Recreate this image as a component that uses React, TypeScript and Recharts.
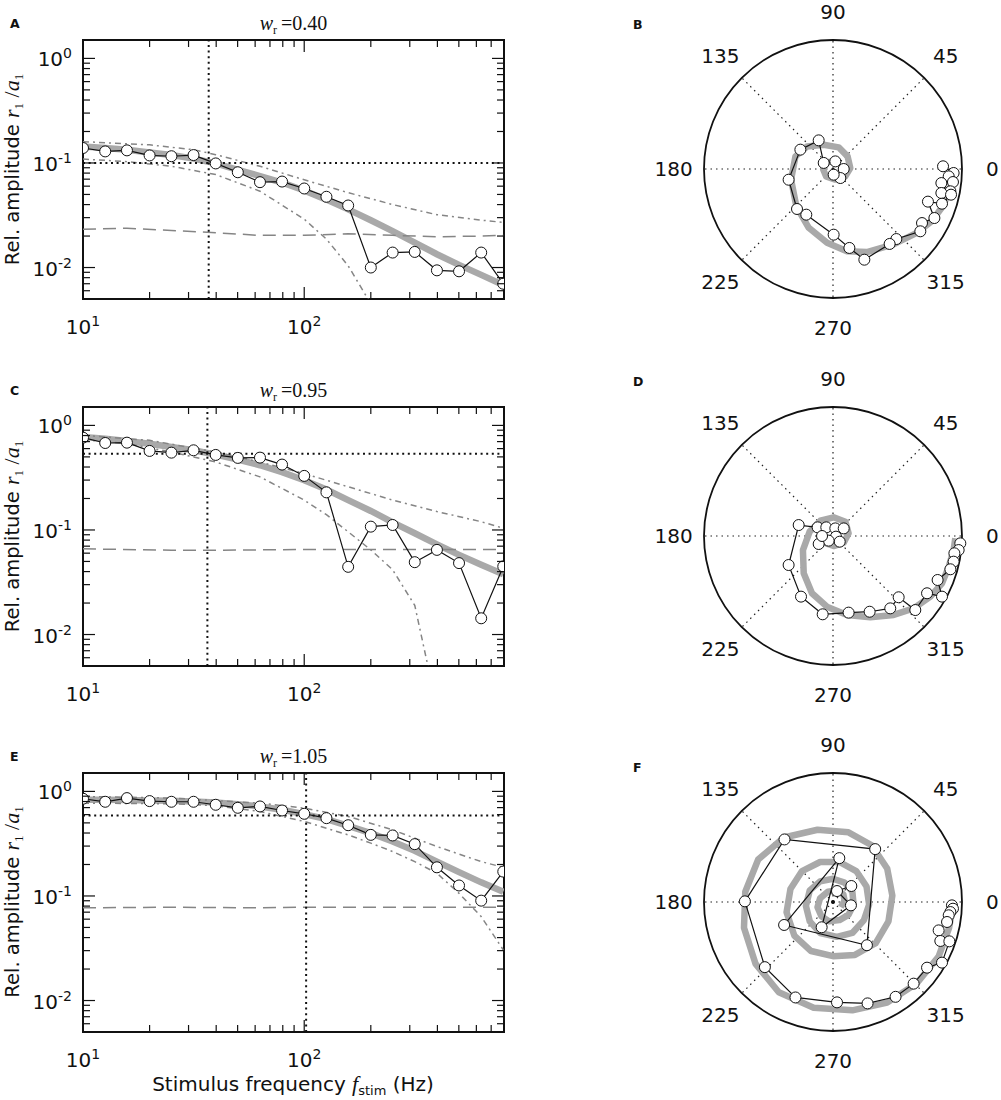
import React from "react";
import {
  ComposedChart,
  Line,
  XAxis,
  YAxis,
  ReferenceLine,
  ReferenceArea,
  ReferenceDot,
} from "recharts";

const SANS = '"DejaVu Sans", sans-serif';
const MATH = '"Liberation Serif", serif';
const INK = "#111";
const FIT_GRAY = "#a9a9a9";
const LINE_GRAY = "#858585";

// stimulus frequencies (Hz), shared by A, C, E
const freqs = [10, 12.6, 15.8, 20, 25.1, 31.6, 39.8, 50.1, 63.1, 79.4, 100, 126, 158, 200, 251, 316, 398, 501, 631, 794];

const xTicks = [10, 20, 30, 40, 50, 60, 70, 80, 90, 100, 200, 300, 400, 500, 600, 700, 800];
const yTicks = [
  0.005, 0.006, 0.007, 0.008, 0.009, 0.01, 0.02, 0.03, 0.04, 0.05, 0.06, 0.07, 0.08, 0.09,
  0.1, 0.2, 0.3, 0.4, 0.5, 0.6, 0.7, 0.8, 0.9, 1,
];

// panel A, w_r = 0.40
const aData = [0.139, 0.129, 0.132, 0.118, 0.116, 0.119, 0.099, 0.0815, 0.0655, 0.0664, 0.057, 0.0475, 0.0392, 0.01, 0.0139, 0.0141, 0.0094, 0.0092, 0.0139, 0.007];
const aFit = [0.144, 0.139, 0.134, 0.126, 0.119, 0.11, 0.099, 0.086, 0.075, 0.065, 0.0546, 0.0446, 0.036, 0.0283, 0.0223, 0.0173, 0.0134, 0.0106, 0.0085, 0.0068];
const aUpper = [0.16, null, null, 0.149, null, 0.134, 0.12, null, 0.093, null, 0.069, null, 0.052, null, 0.04, null, 0.032, null, 0.0284, 0.027];
const aLower = [0.109, null, 0.103, null, 0.093, null, 0.0775, null, 0.0537, null, 0.029, 0.0187, 0.0104, 0.0045];
const aNoise = [0.0232, null, 0.0238, null, 0.0226, null, 0.0215, null, 0.0203, null, 0.0203, null, 0.021, null, 0.0203, null, 0.0197, null, 0.02, 0.0203];

// panel C, w_r = 0.95
const cData = [0.764, 0.679, 0.684, 0.57, 0.549, 0.578, 0.522, 0.489, 0.492, 0.422, 0.329, 0.229, 0.0444, 0.1076, 0.1116, 0.0492, 0.0645, 0.0482, 0.0143, 0.0448];
const cFit = [0.774, 0.746, 0.709, 0.669, 0.622, 0.578, 0.525, 0.471, 0.416, 0.357, 0.299, 0.244, 0.193, 0.152, 0.118, 0.093, 0.0729, 0.0578, 0.0464, 0.0377];
const cUpper = [0.803, null, null, 0.72, null, null, 0.557, null, 0.447, null, 0.346, null, 0.259, null, 0.193, null, 0.15, null, 0.12, 0.104];
const cLower = [0.73, null, 0.669, null, 0.557, null, 0.447, null, 0.322, null, 0.193, 0.14, 0.096, 0.0645, 0.0416, 0.019, 0.002];
const cNoise = [0.066, null, null, null, 0.064, null, 0.064, null, null, null, 0.065, null, null, null, 0.065, null, null, null, 0.065, 0.065];

// panel E, w_r = 1.05
const eData = [0.851, 0.796, 0.863, 0.808, 0.796, 0.796, 0.745, 0.697, 0.718, 0.657, 0.611, 0.555, 0.475, 0.384, 0.379, 0.313, 0.188, 0.126, 0.0902, 0.171];
const eFit = [0.832, 0.832, 0.826, 0.82, 0.814, 0.802, 0.784, 0.756, 0.718, 0.667, 0.606, 0.543, 0.469, 0.399, 0.332, 0.27, 0.213, 0.169, 0.135, 0.11];
const eUpper = [0.895, null, null, null, 0.863, null, null, null, 0.773, null, 0.692, null, 0.576, null, 0.429, null, 0.297, null, 0.213, 0.188];
const eLower = [0.773, null, null, null, 0.762, null, 0.729, null, 0.643, null, 0.516, null, 0.384, 0.32, 0.266, 0.213, 0.165, 0.106, 0.0635, 0.0305];
const eNoise = [0.077, null, null, null, 0.078, null, null, null, 0.077, null, 0.078, null, null, null, 0.078, null, null, null, 0.078, 0.078];

// polar panels: real / imaginary parts, scaled to the outer circle
const bRe = [0.853, 0.935, 0.897, 0.93, 0.84, 0.91, 0.84, 0.915, 0.845, 0.736, 0.786, 0.69, 0.677, 0.491, 0.439, 0.243, 0.127, 0.005, -0.207, -0.279, -0.344, -0.253, -0.111, -0.072, 0.018, 0.083, 0.057, 0.005];
const bIm = [0.021, -0.031, -0.057, -0.101, -0.109, -0.173, -0.186, -0.199, -0.269, -0.253, -0.38, -0.419, -0.483, -0.543, -0.581, -0.703, -0.612, -0.509, -0.354, -0.31, -0.083, 0.15, 0.222, 0.047, 0.059, 0, -0.07, -0.044];
const bFitRe = [0.933, 0.907, 0.851, 0.765, 0.649, 0.469, 0.263, 0.108, -0.046, -0.188, -0.284, -0.325, -0.291, -0.201, -0.072, 0.044, 0.113, 0.134, 0.095, 0.018, -0.054, -0.077, -0.046, 0.005];
const bFitIm = [-0.031, -0.16, -0.289, -0.405, -0.495, -0.585, -0.644, -0.637, -0.572, -0.456, -0.289, -0.082, 0.098, 0.175, 0.188, 0.168, 0.098, 0.008, -0.057, -0.082, -0.057, 0, 0.052, 0.059];

const dRe = [0.987, 0.974, 0.941, 0.935, 0.91, 0.811, 0.845, 0.729, 0.638, 0.509, 0.444, 0.284, 0.121, -0.08, -0.248, -0.344, -0.266, -0.119, -0.052, 0.018, 0.083, 0.023, 0.052, -0.034, -0.111, -0.085];
const dIm = [-0.057, -0.109, -0.134, -0.199, -0.258, -0.341, -0.47, -0.444, -0.574, -0.475, -0.561, -0.587, -0.594, -0.607, -0.47, -0.225, 0.085, 0.067, 0.067, 0.059, 0.059, -0.005, -0.044, -0.036, -0.062, 0];
const dFitRe = [0.948, 0.935, 0.897, 0.845, 0.755, 0.625, 0.47, 0.289, 0.109, -0.047, -0.163, -0.227, -0.233, -0.181, -0.098, 0.005, 0.096, 0.121, 0.083, 0.005, -0.067, -0.085];
const dFitIm = [-0.018, -0.109, -0.238, -0.367, -0.47, -0.561, -0.612, -0.63, -0.612, -0.548, -0.444, -0.289, -0.109, 0.034, 0.119, 0.145, 0.111, 0.021, -0.052, -0.078, -0.052, 0];

const fRe = [0.922, 0.93, 0.91, 0.897, 0.884, 0.819, 0.832, 0.902, 0.845, 0.729, 0.625, 0.485, 0.268, 0.031, -0.291, -0.528, -0.683, -0.376, 0.327, 0.263, -0.379, 0.049, -0.088, 0.139, 0.031, 0.142];
const fIm = [-0.026, -0.052, -0.078, -0.103, -0.155, -0.22, -0.302, -0.305, -0.47, -0.509, -0.633, -0.735, -0.786, -0.778, -0.74, -0.505, 0.005, 0.485, 0.41, -0.335, -0.178, 0.34, -0.196, -0.026, 0.085, 0.124];
const fFitRe = [0.93, 0.9, 0.82, 0.65, 0.42, 0.15, -0.15, -0.42, -0.6, -0.69, -0.68, -0.58, -0.38, -0.12, 0.12, 0.3, 0.42, 0.46, 0.43, 0.33, 0.17, 0, -0.17, -0.3, -0.36, -0.33, -0.24, -0.1, 0.05, 0.18, 0.26, 0.28, 0.24, 0.15, 0.03, -0.1, -0.18, -0.21, -0.18, -0.1, 0, 0.09, 0.15, 0.16, 0.12, 0.05, -0.03, -0.09, -0.12, -0.1, -0.04, 0.03, 0.08, 0.09, 0.06];
const fFitIm = [-0.03, -0.2, -0.42, -0.63, -0.78, -0.84, -0.82, -0.7, -0.48, -0.2, 0.08, 0.33, 0.5, 0.56, 0.54, 0.44, 0.26, 0.05, -0.15, -0.32, -0.41, -0.42, -0.38, -0.26, -0.08, 0.1, 0.24, 0.31, 0.31, 0.24, 0.12, -0.02, -0.14, -0.24, -0.27, -0.24, -0.15, -0.03, 0.09, 0.16, 0.18, 0.15, 0.08, -0.02, -0.1, -0.14, -0.15, -0.11, -0.04, 0.03, 0.08, 0.09, 0.06, 0.01, -0.04];

const polarAngles = [0, 45, 90, 135, 180, 225, 270, 315];

// ---- log-log amplitude panels ----
const W = 520;
const H = 344;
const PLOT_T = 40;
const PLOT_L = 83;
const PLOT_R = 504;

function series(values: (number | null)[]) {
  return freqs.map((f, i) => ({ f, v: values[i] ?? null }));
}

function Pow10({ x, y, exp, anchor }: { x: number; y: number; exp: number; anchor: string }) {
  return (
    <text x={x} y={y} textAnchor={anchor} fontFamily={SANS} fontSize={20} fill={INK}>
      10
      <tspan dy={-8} fontSize={14}>
        {exp}
      </tspan>
    </text>
  );
}

function XTick(props: any) {
  const { x, y, payload } = props;
  const v = payload.value;
  const major = v === 10 || v === 100;
  const len = major ? 12 : 7;
  return (
    <g>
      <line x1={x} x2={x} y1={y} y2={y - len} stroke={INK} strokeWidth={1.2} />
      <line x1={x} x2={x} y1={PLOT_T} y2={PLOT_T + len} stroke={INK} strokeWidth={1.2} />
      {major && <Pow10 x={x} y={y + 35} exp={Math.round(Math.log10(v))} anchor="middle" />}
    </g>
  );
}

function YTick(props: any) {
  const { x, y, payload } = props;
  const v = payload.value;
  const major = v === 1 || v === 0.1 || v === 0.01;
  const len = major ? 12 : 7;
  return (
    <g>
      <line x1={x} x2={x + len} y1={y} y2={y} stroke={INK} strokeWidth={1.2} />
      <line x1={PLOT_R} x2={PLOT_R - len} y1={y} y2={y} stroke={INK} strokeWidth={1.2} />
      {major && <Pow10 x={x - 11} y={y + 8} exp={Math.round(Math.log10(v))} anchor="end" />}
    </g>
  );
}

function AmpPanel({
  data,
  fit,
  upper,
  lower,
  noise,
  fMark,
  aMark,
}: {
  data: number[];
  fit: number[];
  upper: (number | null)[];
  lower: (number | null)[];
  noise: (number | null)[];
  fMark: number;
  aMark: number;
}) {
  return (
    <ComposedChart width={W} height={H} margin={{ top: PLOT_T, right: W - PLOT_R, bottom: 15, left: 23 }}>
      <XAxis
        type="number"
        dataKey="f"
        scale="log"
        domain={[10, 800]}
        allowDataOverflow
        ticks={xTicks}
        interval={0}
        tick={XTick}
        tickSize={0}
        tickMargin={0}
        tickLine={false}
        axisLine={false}
        height={30}
      />
      <YAxis
        type="number"
        scale="log"
        domain={[0.005, 1.5]}
        allowDataOverflow
        ticks={yTicks}
        interval={0}
        tick={YTick}
        tickSize={0}
        tickMargin={0}
        tickLine={false}
        axisLine={false}
        width={60}
      />
      <ReferenceArea x1={10} x2={800} y1={0.005} y2={1.5} fill="none" stroke={INK} strokeWidth={2} />
      <Line data={series(fit)} dataKey="v" stroke={FIT_GRAY} strokeWidth={6.5} dot={false} activeDot={false} isAnimationActive={false} />
      <Line data={series(upper)} dataKey="v" stroke={LINE_GRAY} strokeWidth={1.5} strokeDasharray="6 4 2 4" dot={false} activeDot={false} connectNulls isAnimationActive={false} />
      <Line data={series(lower)} dataKey="v" stroke={LINE_GRAY} strokeWidth={1.5} strokeDasharray="6 4 2 4" dot={false} activeDot={false} connectNulls isAnimationActive={false} />
      <Line data={series(noise)} dataKey="v" stroke={LINE_GRAY} strokeWidth={1.5} strokeDasharray="13 7" dot={false} activeDot={false} connectNulls isAnimationActive={false} />
      <ReferenceLine x={fMark} stroke={INK} strokeWidth={2} strokeDasharray="2 3.6" />
      <ReferenceLine y={aMark} stroke={INK} strokeWidth={2} strokeDasharray="2 3.6" />
      <Line
        data={series(data)}
        dataKey="v"
        stroke={INK}
        strokeWidth={1.2}
        dot={{ r: 5.5, fill: "#fff", stroke: INK, strokeWidth: 1 }}
        activeDot={false}
        isAnimationActive={false}
      />
    </ComposedChart>
  );
}

// ---- polar phase panels ----
const PW = 360;
const PH = 366;
const R = 129;
const X_SPAN = PW / 2 / R;
const Y_SPAN = PH / 2 / R;
const LABEL_R = 1.235;

function rad(a: number) {
  return (a * Math.PI) / 180;
}

function PolarPanel({
  re,
  im,
  fitRe,
  fitIm,
  centerDot,
}: {
  re: number[];
  im: number[];
  fitRe: number[];
  fitIm: number[];
  centerDot?: boolean;
}) {
  const pts = re.map((x, i) => ({ x, y: im[i] }));
  const fit = fitRe.map((x, i) => ({ x, y: fitIm[i] }));
  return (
    <ComposedChart width={PW} height={PH} margin={{ top: 0, right: 0, bottom: 0, left: 0 }}>
      <XAxis type="number" dataKey="x" domain={[-X_SPAN, X_SPAN]} allowDataOverflow hide />
      <YAxis type="number" domain={[-Y_SPAN, Y_SPAN]} allowDataOverflow hide />
      {polarAngles.map((a) => (
        <ReferenceLine
          key={`s${a}`}
          segment={[
            { x: 0, y: 0 },
            { x: Math.cos(rad(a)), y: Math.sin(rad(a)) },
          ]}
          stroke="#222"
          strokeWidth={1.2}
          strokeDasharray="1.5 4"
        />
      ))}
      <ReferenceDot x={0} y={0} r={R} fill="none" stroke={INK} strokeWidth={1.8} />
      {polarAngles.map((a) => (
        <ReferenceDot
          key={`l${a}`}
          x={LABEL_R * Math.cos(rad(a))}
          y={LABEL_R * Math.sin(rad(a))}
          r={1}
          shape={(p: any) => (
            <text x={p.cx} y={p.cy + (a === 90 ? 9 : 7)} textAnchor="middle" fontFamily={SANS} fontSize={20} fill={INK}>
              {a}
            </text>
          )}
        />
      ))}
      <Line data={fit} dataKey="y" stroke={FIT_GRAY} strokeWidth={6.5} strokeLinejoin="round" dot={false} activeDot={false} isAnimationActive={false} />
      <Line
        data={pts}
        dataKey="y"
        stroke={INK}
        strokeWidth={1.2}
        dot={{ r: 5.5, fill: "#fff", stroke: INK, strokeWidth: 1 }}
        activeDot={false}
        isAnimationActive={false}
      />
      {centerDot && <ReferenceDot x={0} y={0} r={2} fill={INK} stroke="none" />}
    </ComposedChart>
  );
}

const leftPanels = [
  { key: "A", top: 0, letter: "A", title: "0.40", data: aData, fit: aFit, upper: aUpper, lower: aLower, noise: aNoise, fMark: 37, aMark: 0.1 },
  { key: "C", top: 367, letter: "C", title: "0.95", data: cData, fit: cFit, upper: cUpper, lower: cLower, noise: cNoise, fMark: 36.5, aMark: 0.537 },
  { key: "E", top: 732.5, letter: "E", title: "1.05", data: eData, fit: eFit, upper: eUpper, lower: eLower, noise: eNoise, fMark: 102, aMark: 0.589 },
];

const rightPanels = [
  { key: "B", cy: 169.3, re: bRe, im: bIm, fitRe: bFitRe, fitIm: bFitIm, dot: false },
  { key: "D", cy: 536, re: dRe, im: dIm, fitRe: dFitRe, fitIm: dFitIm, dot: false },
  { key: "F", cy: 901.7, re: fRe, im: fIm, fitRe: fFitRe, fitIm: fFitIm, dot: true },
];

const POLAR_CX = 832.7;

export default function App() {
  return (
    <div style={{ position: "fixed", left: 0, top: 0, width: 1001, height: 1100, background: "#fff", overflow: "hidden" }}>
      {leftPanels.map((p) => (
        <div key={p.key} style={{ position: "absolute", left: 0, top: p.top }}>
          <AmpPanel data={p.data} fit={p.fit} upper={p.upper} lower={p.lower} noise={p.noise} fMark={p.fMark} aMark={p.aMark} />
        </div>
      ))}
      {rightPanels.map((p) => (
        <div key={p.key} style={{ position: "absolute", left: POLAR_CX - PW / 2, top: p.cy - PH / 2 }}>
          <PolarPanel re={p.re} im={p.im} fitRe={p.fitRe} fitIm={p.fitIm} centerDot={p.dot} />
        </div>
      ))}
      <svg width={1001} height={1100} style={{ position: "absolute", left: 0, top: 0, pointerEvents: "none" }}>
        {leftPanels.map((p) => {
          const plotTop = p.top + PLOT_T;
          const plotMid = plotTop + 129.5;
          return (
            <g key={`t${p.key}`}>
              <text x={10} y={plotTop - 12} fontFamily={SANS} fontSize={12.5} fontWeight="bold" fill={INK}>
                {p.letter}
              </text>
              <text x={(PLOT_L + PLOT_R) / 2} y={plotTop - 10} textAnchor="middle" fontFamily={MATH} fontSize={20} fill={INK}>
                <tspan fontStyle="italic">w</tspan>
                <tspan dy={4} fontSize={12}>r</tspan>
                <tspan dy={-4}>{"\u2009=" + p.title}</tspan>
              </text>
              <text transform={`translate(18.5, ${plotMid}) rotate(-90)`} textAnchor="middle" fontFamily={SANS} fontSize={19.5} fill={INK}>
                Rel. amplitude{" "}
                <tspan fontFamily={MATH} fontStyle="italic" fontSize={22}>r</tspan>
                <tspan dy={4} fontSize={13} fontFamily={MATH}>1</tspan>
                <tspan dy={-4} fontFamily={MATH} fontSize={22}>{" /"}</tspan>
                <tspan fontFamily={MATH} fontStyle="italic" fontSize={22}>a</tspan>
                <tspan dy={4} fontSize={13} fontFamily={MATH}>1</tspan>
              </text>
            </g>
          );
        })}
        {[
          { l: "B", y: 29.3 },
          { l: "D", y: 385.5 },
          { l: "F", y: 772 },
        ].map((t) => (
          <text key={t.l} x={633} y={t.y} fontFamily={SANS} fontSize={12.5} fontWeight="bold" fill={INK}>
            {t.l}
          </text>
        ))}
        <text x={293} y={1091} textAnchor="middle" fontFamily={SANS} fontSize={20} fill={INK}>
          Stimulus frequency{" "}
          <tspan fontFamily={MATH} fontStyle="italic" fontSize={22}>f</tspan>
          <tspan dy={4} fontSize={13}>stim</tspan>
          <tspan dy={-4}>{" (Hz)"}</tspan>
        </text>
      </svg>
    </div>
  );
}
